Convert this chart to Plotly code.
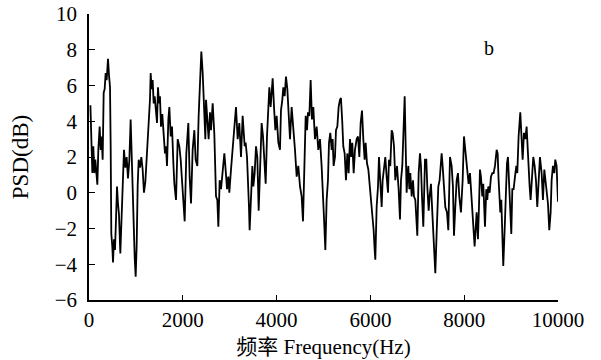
import plotly.graph_objects as go

freq_hz = [30, 71, 92, 114, 135, 156, 178, 199, 227, 249, 270, 291, 313, 334, 355, 377, 405, 426, 448, 462,
           476, 497, 512, 533, 554, 576, 597, 618, 639, 668, 689, 711, 732, 746, 775, 803, 831, 860, 888, 910,
           931, 952, 974, 995, 1016, 1038, 1059, 1087, 1116, 1144, 1172, 1201, 1229, 1258, 1279, 1300, 1315, 1336, 1357, 1379,
           1400, 1428, 1450, 1471, 1492, 1513, 1535, 1563, 1592, 1620, 1642,
           1663, 1692, 1713, 1742, 1770, 1799, 1820, 1855, 1891, 1926, 1955, 1983, 2011, 2040, 2075, 2118, 2146, 2175, 2210,
           2246, 2274, 2310, 2338, 2374, 2395, 2424, 2445, 2481, 2495, 2530, 2551, 2580, 2601, 2637, 2672, 2708, 2736, 2758, 2786,
           2815, 2850, 2886, 2907, 2943, 2971, 2992, 3028, 3063, 3099, 3134, 3170, 3205, 3241, 3276, 3319,
           3340, 3369, 3390, 3411, 3425, 3454, 3483, 3504, 3532, 3561, 3589, 3618, 3639, 3681, 3710, 3738, 3767, 3795, 3817, 3845,
           3873, 3916, 3945, 3973, 4001, 4037, 4072, 4093, 4122, 4143, 4172, 4200, 4229, 4257, 4286, 4321, 4357, 4392, 4428, 4463,
           4499, 4534, 4563, 4591, 4620, 4648, 4669, 4698, 4726, 4754, 4783, 4818, 4854, 4889, 4925, 4960, 4990, 5012,
           5039, 5067, 5095, 5117, 5145, 5174, 5195, 5216, 5245, 5266, 5295, 5323, 5351, 5372, 5401, 5422, 5451, 5479, 5508, 5536,
           5565, 5593, 5614, 5643, 5671, 5707, 5735, 5764, 5792, 5821, 5849, 5877, 5899, 5927, 5956, 5991, 6026, 6069, 6091, 6105,
           6133, 6162, 6183, 6211, 6240, 6261, 6289, 6318, 6346, 6375, 6396, 6424, 6453, 6474, 6503, 6531, 6567, 6602, 6631,
           6652, 6680, 6716, 6731, 6752, 6773, 6794, 6808, 6830, 6851, 6880, 6908, 6929, 6958, 7000, 7029, 7057, 7078, 7100, 7128,
           7164, 7192, 7213, 7242, 7263, 7291, 7320, 7348, 7370, 7384, 7412, 7448, 7476, 7497, 7519, 7540, 7568, 7597, 7633, 7661,
           7697, 7732, 7760, 7782, 7810, 7839, 7867, 7895, 7931, 7967, 7995, 8023, 8045, 8066, 8094, 8123, 8151, 8180, 8208, 8222,
           8265, 8293, 8315, 8336, 8357, 8386, 8407, 8428, 8443, 8471, 8492, 8514, 8542, 8571, 8599, 8628, 8656, 8692, 8713, 8734,
           8770, 8791, 8812, 8833, 8862, 8884, 8912, 8933, 8962, 8983, 9004, 9026, 9054, 9083, 9111, 9132, 9160, 9196, 9225, 9246,
           9274, 9303, 9331, 9367, 9395, 9416, 9445, 9473, 9502, 9530, 9558, 9587, 9615, 9651, 9679, 9708, 9729, 9757, 9786, 9814,
           9843, 9864, 9892, 9921, 9942, 9970, 9992, 10000]

psd_db = [4.9, 1.1, 2.6, 1.1, 1.85, 0.9, 0.45, 2.4, 3.7, 2.4, 3.15, 1.85, 5.6, 5.8, 6.7, 6.3, 7.5, 6.6, 5.9, 2.6,
          -2.3, -3.0, -3.9, -2.6, -3.2, -1.5, 0.35, -0.6, -1.2, -3.4, -2.0, 0.5, 1.8, 2.4, 1.4, 2.0, 0.8, 1.8, 4.1, 1.9,
          -0.2, -1.9, -3.6, -4.7, -3.0, 0.4, 1.85, 1.4, 2.0, 1.3, 0.0, 0.6, 1.85, 3.0, 4.3, 5.2, 6.7, 5.8, 6.3, 5.0,
          5.4, 4.4, 3.9, 5.9, 5.0, 5.4, 3.7, 4.4, 3.0, 2.2, 2.6,
          1.5, 4.1, 4.8, 3.15, 3.7, 1.65, 0.5, -0.4, 3.0, 2.6, 1.85, 0.7, -0.6, -1.6, 2.2, 3.9, 0.9, -0.6, 2.4,
          3.5, 1.85, 1.5, 4.3, 6.1, 7.9, 6.7, 5.6, 3.0, 5.2, 4.1, 3.0, 4.5, 3.5, 5.0, 3.3, -0.2, -0.4, -1.9, 0.7,
          0.2, 1.3, 2.2, 1.5, 0.2, 0.9, 0.0, 1.3, 2.4, 3.9, 4.8, 3.0, 3.9, 2.0, 4.3, 2.6,
          2.8, 2.0, 0.9, -0.8, -2.1, 0.35, 1.5, 0.35, 1.1, 2.6, 2.0, -1.0, 0.7, 3.9, 3.15, 1.85, 0.5, 3.15, 4.6, 5.9,
          4.8, 6.4, 4.8, 3.5, 4.3, 2.8, 2.4, 4.6, 5.2, 5.9, 5.4, 6.5, 5.8, 4.6, 3.0, 4.8, 3.7, 2.4, 0.9, 1.5,
          0.35, -0.2, -1.6, 1.85, 4.3, 3.5, 4.5, 4.3, 6.3, 4.1, 4.8, 3.0, 3.7, 2.4, 3.0, 1.5, -0.8, -1.5,
          -3.2, -0.4, 0.7, 2.8, 3.35, 2.4, 3.0, 1.5, 2.0, 3.5, 3.7, 4.8, 5.2, 5.3, 3.9, 2.6, 2.2, 0.7, 2.2, 1.1,
          3.0, 2.0, 2.8, 1.1, 2.4, 3.0, 3.15, 2.0, 3.9, 4.6, 3.0, 1.85, 2.8, 1.65, 1.3, 0.35, -0.6, -2.1, -3.2, -3.75,
          -0.8, 0.35, 2.0, 0.7, -0.8, 0.7, 1.5, 2.0, 0.9, 0.0, 1.85, 1.5, 3.5, 3.35, 2.6, 0.7, 1.5, 0.2, -1.5,
          0.7, 1.5, 4.1, 5.4, 2.6, 0.0, 1.1, 1.5, 0.2, 1.1, -0.2, 0.7, -0.2, -0.4, -2.4, 1.1, 2.2, 1.5, -0.2, -1.9,
          1.85, 1.85, 0.35, -1.0, -0.2, 0.5, -1.1, -2.4, -3.75, -4.5, -2.3, 0.35, 0.7, 1.3, 2.2, 1.5, 0.35, -0.8, -1.1, -2.1,
          2.0, 1.5, 0.35, -2.4, -0.8, 0.7, 1.1, -0.2, -1.1, 0.7, 3.15, 2.4, 2.0, 1.5, 0.5, 1.1, -0.2, -1.1, -2.3, -3.0,
          -1.1, -2.6, -0.8, 1.3, 0.9, -0.2, 0.5, -1.0, -1.9, 0.2, -0.4, 0.35, 0.0, 0.9, 1.1, 1.1, 1.5, 2.4, 2.2, 0.7,
          -1.1, -0.4, -2.8, -4.1, -2.1, 0.0, 1.65, 2.0, 0.35, -0.8, -2.3, 0.2, 0.2, 0.9, 1.5, 1.1, 3.15, 4.5, 3.0, 1.85,
          3.35, 3.0, 3.7, 1.5, 0.35, -0.4, 0.7, 2.0, 1.5, 0.7, -0.8, 0.5, 2.0, 1.1, -0.4, 1.3, 0.7, -0.2, -0.6, -2.1,
          -1.1, 0.7, 1.5, 1.1, 1.85, 1.5, 0.5, -0.5]

x_tick_vals = [0, 2000, 4000, 6000, 8000, 10000]
x_tick_text = ["0", "2000", "4000", "6000", "8000", "10000"]
y_tick_vals = [-6, -4, -2, 0, 2, 4, 6, 8, 10]
y_tick_text = ["\u22126", "\u22124", "\u22122", "0", "2", "4", "6", "8", "10"]
x_title_cn = "频率"
x_title_en = "Frequency(Hz)"
y_title = "PSD(dB)"
panel_label = "b"

serif = "Liberation Serif"
cjk = "Noto Sans CJK SC"

x_title_html = ("<span style='font-family:" + cjk + "'>" + x_title_cn + "</span> "
                "<span style='font-family:" + serif + "'>" + x_title_en + "</span>")

fig = go.Figure()
fig.add_trace(go.Scatter(x=freq_hz, y=psd_db, mode="lines",
                         line=dict(color="black", width=1.8), showlegend=False))

fig.add_annotation(x=8530, y=8.1, text=panel_label, showarrow=False,
                   font=dict(family=serif, size=20, color="black"))

fig.update_layout(
    template="none",
    width=601, height=360,
    margin=dict(l=89, r=43, t=14, b=60),
    paper_bgcolor="white", plot_bgcolor="white",
    font=dict(family=serif, size=21, color="black"),
)
fig.update_xaxes(range=[0, 10000], tickvals=x_tick_vals, ticktext=x_tick_text,
                 showgrid=False, zeroline=False, automargin=False,
                 showline=True, linecolor="black", linewidth=1.5,
                 ticks="inside", ticklen=5, tickcolor="black", tickwidth=1,
                 ticklabeloverflow="allow",
                 tickfont=dict(family=serif, size=21, color="black"),
                 title=dict(text=x_title_html, font=dict(family=serif, size=21), standoff=6))
fig.update_yaxes(range=[-6, 10], tickvals=y_tick_vals, ticktext=y_tick_text,
                 showgrid=False, zeroline=False, automargin=False,
                 showline=True, linecolor="black", linewidth=1.5,
                 ticks="inside", ticklen=6, tickcolor="black", tickwidth=1,
                 ticklabeloverflow="allow", ticklabelstandoff=6,
                 tickfont=dict(family=serif, size=21, color="black"),
                 title=dict(text=y_title, font=dict(family=serif, size=23), standoff=20))

fig.write_html("out.html", config={"displayModeBar": False},
               post_script="document.body.style.margin='0';")
